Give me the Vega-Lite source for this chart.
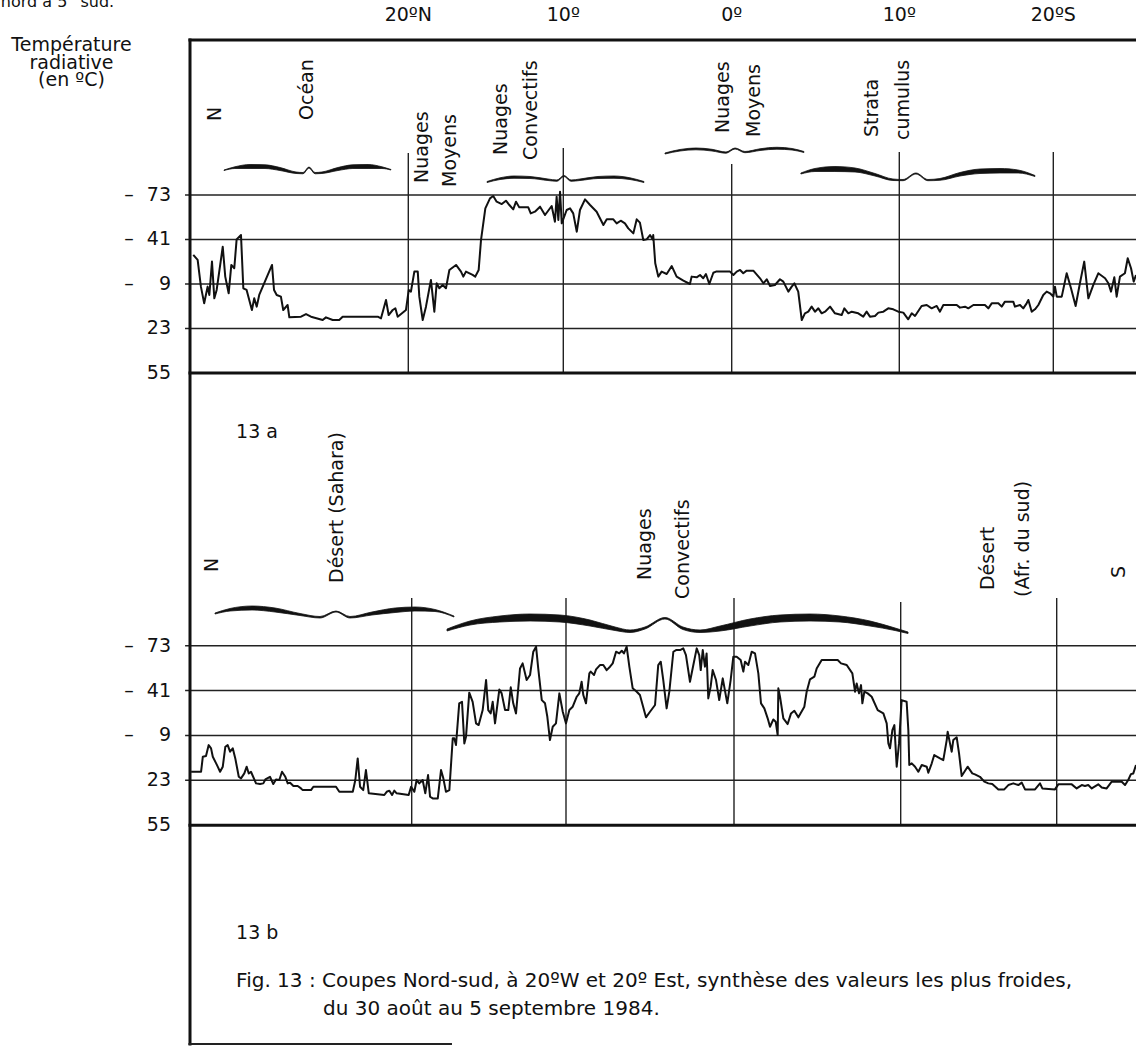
{
  "$schema": "https://vega.github.io/schema/vega-lite/v6.json",
  "background": "white",
  "padding": 0,
  "spacing": 0,
  "bounds": "flush",
  "config": {"view": {"stroke": null}, "font": "DejaVu Sans"},
  "resolve": {"scale": {"x": "independent", "y": "independent"}},
  "datasets": {
    "traceA": [
      {"lat":33.79,"t":-29.9},{"lat":33.51,"t":-26.3},{"lat":33.30,"t":-7.1},{"lat":33.09,"t":4.9},{"lat":32.87,"t":-7.1},{"lat":32.76,"t":-1.1},{"lat":32.59,"t":-25.1},{"lat":32.44,"t":1.3},{"lat":32.29,"t":-4.7},{"lat":31.90,"t":-35.8},{"lat":31.74,"t":-14.3},{"lat":31.52,"t":-2.3},{"lat":31.35,"t":-22.7},{"lat":31.16,"t":-20.3},{"lat":31.01,"t":-41.1},{"lat":30.73,"t":-44.2},{"lat":30.58,"t":-5.9},{"lat":30.37,"t":-4.7},{"lat":30.03,"t":9.7},{"lat":29.88,"t":1.3},{"lat":29.72,"t":7.3},{"lat":29.56,"t":-1.1},{"lat":28.74,"t":-22.7},{"lat":28.61,"t":-4.7},{"lat":28.44,"t":-1.1},{"lat":28.17,"t":0.1},{"lat":28.02,"t":9.7},{"lat":27.74,"t":6.1},{"lat":27.63,"t":15.0},{"lat":26.88,"t":14.5},{"lat":26.56,"t":12.6},{"lat":26.24,"t":14.5},{"lat":25.49,"t":16.9},{"lat":25.28,"t":15.0},{"lat":24.85,"t":16.9},{"lat":24.43,"t":16.9},{"lat":24.21,"t":14.5},{"lat":21.96,"t":14.5},{"lat":21.75,"t":15.7},{"lat":21.43,"t":2.5},{"lat":21.26,"t":13.3},{"lat":21.00,"t":9.7},{"lat":20.83,"t":8.5},{"lat":20.68,"t":14.5},{"lat":20.15,"t":9.7},{"lat":19.97,"t":-4.7},{"lat":19.83,"t":-3.5},{"lat":19.61,"t":-17.9},{"lat":19.39,"t":-17.9},{"lat":19.29,"t":0.1},{"lat":19.07,"t":16.9},{"lat":18.86,"t":7.3},{"lat":18.54,"t":-11.9},{"lat":18.32,"t":10.9},{"lat":18.17,"t":-9.5},{"lat":18.00,"t":-5.9},{"lat":17.78,"t":-8.3},{"lat":17.57,"t":-5.9},{"lat":17.35,"t":-19.1},{"lat":16.92,"t":-22.7},{"lat":16.60,"t":-17.9},{"lat":16.45,"t":-14.3},{"lat":16.28,"t":-17.9},{"lat":15.85,"t":-15.5},{"lat":15.68,"t":-14.3},{"lat":15.46,"t":-19.1},{"lat":15.31,"t":-40.6},{"lat":15.03,"t":-63.4},
      {"lat":14.73,"t":-70.6},{"lat":14.52,"t":-72.3},{"lat":14.30,"t":-68.2},{"lat":13.97,"t":-66.5},{"lat":13.70,"t":-68.9},{"lat":13.48,"t":-65.8},{"lat":13.23,"t":-62.7},{"lat":13.05,"t":-68.2},{"lat":12.84,"t":-64.1},{"lat":12.26,"t":-64.1},{"lat":12.10,"t":-59.8},{"lat":11.83,"t":-61},{"lat":11.50,"t":-64.6},{"lat":11.18,"t":-58.6},{"lat":10.75,"t":-65.1},{"lat":10.54,"t":-53.8},{"lat":10.43,"t":-71.8},{"lat":10.32,"t":-55},{"lat":10.21,"t":-75.4},{"lat":10.10,"t":-52.6},{"lat":9.80,"t":-62.2},{"lat":9.60,"t":-63.4},{"lat":9.41,"t":-59.8},{"lat":9.20,"t":-46.6},{"lat":9.01,"t":-62.2},{"lat":8.71,"t":-69.9},{"lat":8.41,"t":-65.8},{"lat":8.02,"t":-61},{"lat":7.62,"t":-51.4},{"lat":7.42,"t":-55.5},{"lat":7.03,"t":-55.5},{"lat":6.83,"t":-52.6},{"lat":6.59,"t":-54.5},{"lat":6.34,"t":-52.6},{"lat":6.14,"t":-49},{"lat":5.84,"t":-45.4},{"lat":5.64,"t":-55.5},{"lat":5.45,"t":-53.1},{"lat":5.25,"t":-40.6},{"lat":5.05,"t":-41.1},{"lat":4.85,"t":-44.2},{"lat":4.69,"t":-41.1},{"lat":4.66,"t":-44.2},{"lat":4.54,"t":-23.9},{"lat":4.36,"t":-14.3},{"lat":4.16,"t":-17.9},{"lat":3.86,"t":-16.2},{"lat":3.56,"t":-21.9},{"lat":3.27,"t":-14.3},{"lat":2.87,"t":-11.4},{"lat":2.48,"t":-9.0},{"lat":2.38,"t":-14.3},{"lat":2.08,"t":-13.8},{"lat":1.88,"t":-15.5},{"lat":1.69,"t":-13.1},{"lat":1.53,"t":-16.2},{"lat":1.33,"t":-9.0},{"lat":1.09,"t":-17.1},{"lat":0.93,"t":-17.9},{"lat":0.10,"t":-17.9},{"lat":-0.10,"t":-15.5},{"lat":-0.30,"t":-17.9},{"lat":-0.50,"t":-19.1},{"lat":-0.69,"t":-16.7},{"lat":-0.89,"t":-18.6},{"lat":-1.29,"t":-18.6},
      {"lat":-1.69,"t":-13.1},{"lat":-1.89,"t":-9.5},{"lat":-2.09,"t":-12.4},{"lat":-2.29,"t":-7.6},{"lat":-2.58,"t":-8.3},{"lat":-2.88,"t":-12.4},{"lat":-3.08,"t":-10.7},{"lat":-3.38,"t":-3.5},{"lat":-3.58,"t":-7.1},{"lat":-3.74,"t":-9.5},{"lat":-3.97,"t":-3.5},{"lat":-4.18,"t":16.9},{"lat":-4.37,"t":12.1},{"lat":-4.57,"t":10.9},{"lat":-4.77,"t":7.3},{"lat":-4.97,"t":10.9},{"lat":-5.17,"t":8.5},{"lat":-5.37,"t":12.1},{"lat":-5.57,"t":10.9},{"lat":-5.87,"t":7.3},{"lat":-6.16,"t":12.1},{"lat":-6.56,"t":13.3},{"lat":-6.72,"t":8.5},{"lat":-6.96,"t":12.1},{"lat":-7.16,"t":10.9},{"lat":-7.55,"t":12.1},{"lat":-7.85,"t":14.5},{"lat":-8.05,"t":10.9},{"lat":-8.25,"t":14.5},{"lat":-8.55,"t":14.0},{"lat":-8.75,"t":11.6},{"lat":-9.05,"t":10.9},{"lat":-9.34,"t":8.5},{"lat":-9.64,"t":9.2},{"lat":-9.94,"t":10.9},{"lat":-10.26,"t":11.6},{"lat":-10.58,"t":16.4},{"lat":-10.81,"t":12.1},{"lat":-11.02,"t":14.0},{"lat":-11.45,"t":6.8},{"lat":-11.78,"t":6.1},{"lat":-12.10,"t":8.5},{"lat":-12.43,"t":6.8},{"lat":-12.64,"t":10.9},{"lat":-12.86,"t":6.1},{"lat":-13.73,"t":6.1},{"lat":-13.94,"t":8.0},{"lat":-14.27,"t":7.3},{"lat":-14.48,"t":8.5},{"lat":-14.81,"t":6.1},{"lat":-15.56,"t":6.1},{"lat":-15.78,"t":8.5},{"lat":-16.0,"t":4.9},{"lat":-16.43,"t":4.9},{"lat":-16.65,"t":7.3},{"lat":-16.86,"t":3.7},{"lat":-17.40,"t":3.7},{"lat":-17.51,"t":7.3},{"lat":-17.84,"t":6.1},{"lat":-18.05,"t":8.5},{"lat":-18.27,"t":4.9},{"lat":-18.38,"t":2.5},{"lat":-18.60,"t":10.9},{"lat":-18.81,"t":9.2},{"lat":-19.03,"t":6.1},{"lat":-19.35,"t":-1.1},{"lat":-19.57,"t":-3.5},{"lat":-19.79,"t":-2.3},{"lat":-20.0,"t":0.1},{"lat":-20.10,"t":-7.1},{"lat":-20.21,"t":0.1},{"lat":-20.51,"t":0.1},{"lat":-20.81,"t":-16.7},{"lat":-21.07,"t":-5.9},{"lat":-21.35,"t":6.8},{"lat":-21.61,"t":-9.5},{"lat":-21.87,"t":-25.1},{"lat":-22.12,"t":1.3},{"lat":-22.42,"t":-8.3},{"lat":-22.72,"t":-16.7},{"lat":-23.13,"t":-13.1},{"lat":-23.33,"t":-9.5},{"lat":-23.49,"t":-3.5},{"lat":-23.69,"t":-13.8},{"lat":-23.83,"t":0.1},{"lat":-24.03,"t":-14.3},{"lat":-24.33,"t":-16.7},{"lat":-24.50,"t":-27.5},{"lat":-24.70,"t":-20.3},{"lat":-24.86,"t":-10.7},{"lat":-25.0,"t":-15.5}
    ],
    "traceB": [
      {"lat":33.93,"t":16.9},{"lat":33.30,"t":16.9},{"lat":33.19,"t":6.2},{"lat":32.99,"t":5.7},{"lat":32.82,"t":-2.1},{"lat":32.67,"t":0.2},{"lat":32.56,"t":6.2},{"lat":32.35,"t":10.9},{"lat":32.25,"t":13.3},{"lat":32.10,"t":16.9},{"lat":31.93,"t":13.3},{"lat":31.77,"t":-0.9},{"lat":31.62,"t":-2.1},{"lat":31.47,"t":2.6},{"lat":31.30,"t":0.2},{"lat":31.14,"t":7.4},{"lat":30.92,"t":20.5},{"lat":30.78,"t":21.6},{"lat":30.57,"t":18.1},{"lat":30.42,"t":13.3},{"lat":30.29,"t":18.1},{"lat":30.15,"t":16.9},{"lat":29.83,"t":25.2},{"lat":29.58,"t":25.7},{"lat":29.37,"t":25.2},{"lat":29.24,"t":22.4},{"lat":28.95,"t":20.5},{"lat":28.74,"t":25.7},{"lat":28.57,"t":22.4},{"lat":28.36,"t":22.8},{"lat":28.19,"t":16.9},{"lat":27.98,"t":20.5},{"lat":27.83,"t":25.2},{"lat":27.68,"t":24.7},{"lat":27.47,"t":27.1},{"lat":27.20,"t":27.1},{"lat":26.99,"t":28.8},{"lat":26.88,"t":30.0},{"lat":26.36,"t":30.0},{"lat":26.21,"t":27.6},{"lat":24.78,"t":27.6},{"lat":24.57,"t":31.2},{"lat":23.72,"t":31.2},{"lat":23.56,"t":22.8},{"lat":23.41,"t":7.4},{"lat":23.26,"t":27.6},{"lat":23.06,"t":30.0},{"lat":22.89,"t":15.7},{"lat":22.71,"t":32.3},{"lat":21.73,"t":33.5},{"lat":21.58,"t":31.2},{"lat":21.41,"t":30.4},{"lat":21.24,"t":33.5},{"lat":21.10,"t":30.4},{"lat":20.95,"t":32.3},{"lat":20.19,"t":33.5},{"lat":20.04,"t":27.6},{"lat":19.83,"t":31.2},{"lat":19.68,"t":22.8},{"lat":19.51,"t":25.2},{"lat":19.29,"t":22.8},{"lat":19.12,"t":32.3},{"lat":18.94,"t":19.3},{"lat":18.81,"t":34.7},{"lat":18.64,"t":35.9},{"lat":18.31,"t":35.9},{"lat":18.10,"t":15.7},{"lat":17.95,"t":21.6},{"lat":17.78,"t":31.2},{"lat":17.56,"t":30.0},{"lat":17.34,"t":-6.9},{"lat":17.24,"t":-6.9},{"lat":17.13,"t":-2.1},{"lat":16.92,"t":-31.9},{"lat":16.74,"t":-33.0},{"lat":16.59,"t":-3.3},{"lat":16.48,"t":-8.1},{"lat":16.27,"t":-39.5},{"lat":16.05,"t":-33.0},{"lat":15.83,"t":-17.6},{"lat":15.66,"t":-16.4},{"lat":15.40,"t":-27.1},{"lat":15.18,"t":-48.5},
      {"lat":15.04,"t":-27.1},{"lat":14.88,"t":-24.7},{"lat":14.75,"t":-33.0},{"lat":14.60,"t":-17.6},{"lat":14.32,"t":-41.8},{"lat":14.17,"t":-39.0},{"lat":13.95,"t":-27.1},{"lat":13.74,"t":-27.1},{"lat":13.58,"t":-43.3},{"lat":13.42,"t":-31.9},{"lat":13.24,"t":-24.7},{"lat":12.98,"t":-56.8},{"lat":12.81,"t":-60.4},{"lat":12.55,"t":-48.5},{"lat":12.33,"t":-52.1},{"lat":12.12,"t":-68.7},{"lat":11.94,"t":-72.3},{"lat":11.80,"t":-56.8},{"lat":11.57,"t":-34.2},{"lat":11.36,"t":-31.9},{"lat":11.21,"t":-22.3},{"lat":11.04,"t":-5.7},{"lat":10.86,"t":-15.2},{"lat":10.65,"t":-17.6},{"lat":10.43,"t":-39.0},{"lat":10.21,"t":-25.9},{"lat":10.0,"t":-17.6},{"lat":9.80,"t":-27.1},{"lat":9.60,"t":-29.5},{"lat":9.36,"t":-36.6},{"lat":9.21,"t":-39.0},{"lat":9.07,"t":-47.3},{"lat":8.97,"t":-37.8},{"lat":8.81,"t":-31.9},{"lat":8.61,"t":-53.3},{"lat":8.53,"t":-54.5},{"lat":8.33,"t":-52.1},{"lat":8.21,"t":-56.1},{"lat":7.98,"t":-59.2},{"lat":7.78,"t":-59.2},{"lat":7.58,"t":-55.6},{"lat":7.38,"t":-58.0},{"lat":7.22,"t":-60.4},{"lat":7.02,"t":-68.7},{"lat":6.83,"t":-67.5},{"lat":6.68,"t":-69.4},{"lat":6.55,"t":-67.5},{"lat":6.39,"t":-72.3},{"lat":6.23,"t":-58.0},{"lat":6.03,"t":-42.6},{"lat":5.79,"t":-40.2},{"lat":5.60,"t":-37.8},{"lat":5.24,"t":-21.9},{"lat":5.0,"t":-25.9},{"lat":4.70,"t":-30.7},{"lat":4.51,"t":-59.2},{"lat":4.36,"t":-61.6},{"lat":4.21,"t":-48.5},{"lat":4.01,"t":-28.3},{"lat":3.85,"t":-40.2},{"lat":3.61,"t":-68.7},{"lat":3.45,"t":-69.9},{"lat":3.21,"t":-69.9},{"lat":3.02,"t":-71.1},{"lat":2.86,"t":-66.3},{"lat":2.62,"t":-47.3},{"lat":2.42,"t":-59.2},{"lat":2.22,"t":-71.1},{"lat":2.07,"t":-66.3},{"lat":1.98,"t":-55.6},{"lat":1.86,"t":-69.9},{"lat":1.73,"t":-58.0},{"lat":1.63,"t":-67.5},{"lat":1.53,"t":-35.4},{"lat":1.39,"t":-43.8},{"lat":1.27,"t":-55.6},{"lat":1.07,"t":-48.5},{"lat":0.88,"t":-34.2},{"lat":0.67,"t":-49.7},{"lat":0.40,"t":-31.9},{"lat":0.20,"t":-48.5},{"lat":0.04,"t":-65.2},{"lat":-0.16,"t":-65.2},{"lat":-0.40,"t":-62.8},{"lat":-0.56,"t":-54.5},{"lat":-0.66,"t":-61.6},{"lat":-0.86,"t":-59.2},{"lat":-1.06,"t":-68.7},
      {"lat":-1.26,"t":-67.5},{"lat":-1.46,"t":-53.3},{"lat":-1.62,"t":-31.9},{"lat":-1.82,"t":-28.3},{"lat":-2.02,"t":-21.2},{"lat":-2.16,"t":-15.2},{"lat":-2.36,"t":-20.4},{"lat":-2.50,"t":-18.8},{"lat":-2.62,"t":-9.3},{"lat":-2.66,"t":-42.6},{"lat":-2.76,"t":-36.6},{"lat":-2.96,"t":-21.2},{"lat":-3.22,"t":-17.1},{"lat":-3.42,"t":-24.7},{"lat":-3.62,"t":-26.6},{"lat":-3.86,"t":-21.9},{"lat":-4.22,"t":-29.5},{"lat":-4.36,"t":-40.2},{"lat":-4.56,"t":-49.0},{"lat":-4.82,"t":-50.9},{"lat":-4.96,"t":-56.8},{"lat":-5.26,"t":-62.8},{"lat":-6.22,"t":-62.8},{"lat":-6.42,"t":-60.4},{"lat":-6.76,"t":-59.2},{"lat":-7.10,"t":-53.3},{"lat":-7.26,"t":-40.2},{"lat":-7.36,"t":-46.1},{"lat":-7.50,"t":-39.0},{"lat":-7.62,"t":-44.9},{"lat":-7.70,"t":-31.9},{"lat":-7.82,"t":-40.2},{"lat":-8.02,"t":-39.0},{"lat":-8.26,"t":-36.6},{"lat":-8.62,"t":-27.1},{"lat":-8.96,"t":-24.7},{"lat":-9.16,"t":-17.6},{"lat":-9.26,"t":-3.3},{"lat":-9.36,"t":0.2},{"lat":-9.50,"t":-12.8},{"lat":-9.62,"t":-16.4},{"lat":-9.76,"t":13.3},{"lat":-9.90,"t":-3.3},{"lat":-10.06,"t":-34.2},{"lat":-10.38,"t":-33.0},{"lat":-10.49,"t":-12.8},{"lat":-10.55,"t":12.1},{"lat":-10.71,"t":10.9},{"lat":-10.92,"t":13.3},{"lat":-11.13,"t":16.9},{"lat":-11.35,"t":12.1},{"lat":-11.67,"t":13.3},{"lat":-11.77,"t":17.6},{"lat":-11.99,"t":10.9},{"lat":-12.15,"t":5.0},{"lat":-12.52,"t":7.4},{"lat":-12.73,"t":8.6},{"lat":-12.95,"t":-5.7},{"lat":-13.01,"t":-11.6},{"lat":-13.16,"t":-3.3},{"lat":-13.27,"t":2.6},{"lat":-13.37,"t":-5.7},{"lat":-13.59,"t":-7.6},{"lat":-13.74,"t":3.8},{"lat":-13.91,"t":20.0},{"lat":-14.29,"t":13.3},{"lat":-14.59,"t":18.1},{"lat":-14.76,"t":18.8},{"lat":-15.08,"t":20.5},{"lat":-15.36,"t":24.0},{"lat":-15.62,"t":25.2},{"lat":-15.87,"t":25.7},{"lat":-16.26,"t":29.5},{"lat":-16.64,"t":29.5},{"lat":-16.90,"t":26.4},{"lat":-17.22,"t":25.2},{"lat":-17.54,"t":26.4},{"lat":-17.76,"t":24.7},{"lat":-17.97,"t":29.5},{"lat":-18.61,"t":29.5},{"lat":-18.93,"t":25.2},{"lat":-19.08,"t":28.8},{"lat":-19.89,"t":29.5},{"lat":-20.10,"t":25.9},{"lat":-20.95,"t":25.9},{"lat":-21.26,"t":28.8},{"lat":-21.58,"t":26.4},{"lat":-21.78,"t":27.1},{"lat":-21.99,"t":26.4},{"lat":-22.21,"t":28.8},{"lat":-22.62,"t":25.9},{"lat":-22.84,"t":28.1},{"lat":-23.15,"t":28.8},{"lat":-23.47,"t":24.0},{"lat":-24.10,"t":24.0},{"lat":-24.31,"t":26.4},{"lat":-24.51,"t":22.8},{"lat":-24.68,"t":18.6},{"lat":-24.83,"t":18.1},{"lat":-25.0,"t":12.1}
    ],
    "bracesA": [
      {"id":"ocean","lat":31.82,"t":-90.97,"t2":-90.61},{"id":"ocean","lat":31.12,"t":-93.27,"t2":-92.05},{"id":"ocean","lat":30.15,"t":-94.93,"t2":-92.05},{"id":"ocean","lat":29.19,"t":-94.71,"t2":-92.05},{"id":"ocean","lat":28.23,"t":-92.77,"t2":-90.61},{"id":"ocean","lat":27.20,"t":-89.53,"t2":-88.46},{"id":"ocean","lat":26.75,"t":-89.17,"t2":-88.24},{"id":"ocean","lat":26.37,"t":-93.13,"t2":-92.41},{"id":"ocean","lat":25.98,"t":-89.17,"t2":-88.24},{"id":"ocean","lat":25.54,"t":-89.53,"t2":-88.46},{"id":"ocean","lat":24.51,"t":-92.77,"t2":-90.61},{"id":"ocean","lat":23.55,"t":-94.71,"t2":-92.05},{"id":"ocean","lat":22.58,"t":-94.93,"t2":-92.05},{"id":"ocean","lat":21.69,"t":-93.27,"t2":-92.05},{"id":"ocean","lat":21.11,"t":-91.33,"t2":-90.97},
      {"id":"conv","lat":14.92,"t":-82.70,"t2":-81.98},{"id":"conv","lat":14.08,"t":-85.36,"t2":-84.14},{"id":"conv","lat":13.18,"t":-86.66,"t2":-85.00},{"id":"conv","lat":12.15,"t":-86.30,"t2":-84.86},{"id":"conv","lat":10.99,"t":-84.50,"t2":-83.42},{"id":"conv","lat":10.41,"t":-83.78,"t2":-82.85},{"id":"conv","lat":9.96,"t":-87.02,"t2":-86.30},{"id":"conv","lat":9.54,"t":-83.78,"t2":-82.85},{"id":"conv","lat":9.01,"t":-84.50,"t2":-83.42},{"id":"conv","lat":7.94,"t":-86.30,"t2":-84.86},{"id":"conv","lat":6.99,"t":-86.66,"t2":-85.00},{"id":"conv","lat":6.04,"t":-85.36,"t2":-84.14},{"id":"conv","lat":5.21,"t":-82.70,"t2":-81.98},
      {"id":"moy","lat":3.96,"t":-103.20,"t2":-102.48},{"id":"moy","lat":3.07,"t":-105.72,"t2":-104.64},{"id":"moy","lat":2.12,"t":-106.79,"t2":-105.50},{"id":"moy","lat":1.17,"t":-105.86,"t2":-104.64},{"id":"moy","lat":0.34,"t":-103.92,"t2":-103.05},{"id":"moy","lat":-0.20,"t":-106.79,"t2":-106.07},{"id":"moy","lat":-0.79,"t":-104.28,"t2":-103.41},{"id":"moy","lat":-1.69,"t":-106.22,"t2":-105.00},{"id":"moy","lat":-2.70,"t":-107.30,"t2":-105.93},{"id":"moy","lat":-3.60,"t":-106.43,"t2":-105.35},{"id":"moy","lat":-4.31,"t":-104.28,"t2":-103.56},
      {"id":"strat","lat":-4.13,"t":-88.82,"t2":-88.10},{"id":"strat","lat":-4.97,"t":-92.05,"t2":-89.89},{"id":"strat","lat":-6.16,"t":-93.49,"t2":-89.89},{"id":"strat","lat":-7.36,"t":-92.41,"t2":-89.53},{"id":"strat","lat":-8.55,"t":-88.46,"t2":-86.66},{"id":"strat","lat":-9.62,"t":-84.50,"t2":-83.42},{"id":"strat","lat":-10.24,"t":-84.14,"t2":-83.28},{"id":"strat","lat":-11.08,"t":-88.82,"t2":-88.10},{"id":"strat","lat":-11.86,"t":-84.14,"t2":-83.28},{"id":"strat","lat":-12.64,"t":-84.86,"t2":-83.57},{"id":"strat","lat":-13.94,"t":-89.17,"t2":-86.66},{"id":"strat","lat":-15.24,"t":-91.69,"t2":-88.46},{"id":"strat","lat":-16.54,"t":-92.05,"t2":-88.82},{"id":"strat","lat":-17.71,"t":-90.97,"t2":-88.82},{"id":"strat","lat":-18.81,"t":-87.02,"t2":-86.30}
    ],
    "bracesB": [
      {"id":"des","lat":32.42,"t":-96.33,"t2":-95.61},{"id":"des","lat":31.47,"t":-99.54,"t2":-97.75},{"id":"des","lat":30.08,"t":-101.32,"t2":-98.47},{"id":"des","lat":28.63,"t":-99.89,"t2":-97.04},{"id":"des","lat":27.05,"t":-95.97,"t2":-94.54},{"id":"des","lat":25.79,"t":-93.83,"t2":-92.76},{"id":"des","lat":24.78,"t":-97.75,"t2":-97.04},{"id":"des","lat":23.90,"t":-93.83,"t2":-92.76},{"id":"des","lat":22.51,"t":-97.04,"t2":-94.90},{"id":"des","lat":21.05,"t":-99.89,"t2":-96.68},{"id":"des","lat":19.79,"t":-100.61,"t2":-97.75},{"id":"des","lat":18.49,"t":-98.82,"t2":-97.40},{"id":"des","lat":17.26,"t":-94.19,"t2":-93.47},
      {"id":"conv","lat":17.71,"t":-84.91,"t2":-83.49},{"id":"conv","lat":16.22,"t":-90.62,"t2":-87.77},{"id":"conv","lat":14.28,"t":-94.19,"t2":-89.91},{"id":"conv","lat":12.33,"t":-95.61,"t2":-90.62},{"id":"conv","lat":10.39,"t":-94.90,"t2":-89.91},{"id":"conv","lat":8.57,"t":-91.33,"t2":-87.05},{"id":"conv","lat":7.08,"t":-86.34,"t2":-83.84},{"id":"conv","lat":6.19,"t":-84.20,"t2":-82.42},{"id":"conv","lat":5.30,"t":-86.34,"t2":-84.91},{"id":"conv","lat":4.11,"t":-93.12,"t2":-92.05},{"id":"conv","lat":3.04,"t":-86.34,"t2":-84.56},{"id":"conv","lat":2.02,"t":-84.20,"t2":-82.42},{"id":"conv","lat":0.83,"t":-87.05,"t2":-83.49},{"id":"conv","lat":-0.96,"t":-92.05,"t2":-87.05},{"id":"conv","lat":-2.76,"t":-94.90,"t2":-89.91},{"id":"conv","lat":-4.56,"t":-95.61,"t2":-90.62},{"id":"conv","lat":-6.36,"t":-94.19,"t2":-89.91},{"id":"conv","lat":-8.16,"t":-90.62,"t2":-87.05},{"id":"conv","lat":-9.66,"t":-85.63,"t2":-83.84},{"id":"conv","lat":-10.47,"t":-82.77,"t2":-81.70}
    ],
    "segA": [
      {"kind":"grid","lat":34.32,"lat2":-25,"t":-73,"t2":-73},
      {"kind":"grid","lat":34.32,"lat2":-25,"t":-41,"t2":-41},
      {"kind":"grid","lat":34.32,"lat2":-25,"t":-9,"t2":-9},
      {"kind":"grid","lat":34.32,"lat2":-25,"t":23,"t2":23},
      {"kind":"grid","lat":20,"lat2":20,"t":-103.2,"t2":55},
      {"kind":"grid","lat":10,"lat2":10,"t":-106.79,"t2":55},
      {"kind":"grid","lat":0,"lat2":0,"t":-95.29,"t2":55},
      {"kind":"grid","lat":-10,"lat2":-10,"t":-103.92,"t2":55},
      {"kind":"grid","lat":-20,"lat2":-20,"t":-103.92,"t2":55},
      {"kind":"frame","lat":34.1,"lat2":-25,"t":55,"t2":55},
      {"kind":"frame","lat":34.1,"lat2":-25,"t":-184.46,"t2":-184.46},
      {"kind":"frame","lat":34,"lat2":34,"t":-185.54,"t2":81.61}
    ],
    "segB": [
      {"kind":"grid","lat":34.31,"lat2":-25,"t":-73,"t2":-73},
      {"kind":"grid","lat":34.31,"lat2":-25,"t":-41,"t2":-41},
      {"kind":"grid","lat":34.31,"lat2":-25,"t":-9,"t2":-9},
      {"kind":"grid","lat":34.31,"lat2":-25,"t":23,"t2":23},
      {"kind":"grid","lat":20,"lat2":20,"t":-107.03,"t2":55},
      {"kind":"grid","lat":10,"lat2":10,"t":-107.03,"t2":55},
      {"kind":"grid","lat":0,"lat2":0,"t":-107.03,"t2":55},
      {"kind":"grid","lat":-10,"lat2":-10,"t":-104.17,"t2":55},
      {"kind":"grid","lat":-20,"lat2":-20,"t":-107.03,"t2":55},
      {"kind":"frame","lat":34.1,"lat2":-25,"t":55,"t2":55},
      {"kind":"frame","lat":34,"lat2":34,"t":-241.13,"t2":212.19},
      {"kind":"bottom","lat":34.1,"lat2":17.39,"t":211.1,"t2":211.1}
    ],
    "textA": [
      {"kind":"cut","label":"nord à 5° sud.","lat":46.13,"t":-208.19},
      {"kind":"center","label":"Température","lat":41.6,"t":-180.64},
      {"kind":"center","label":"radiative","lat":41.6,"t":-168.06},
      {"kind":"center","label":"(en ºC)","lat":41.6,"t":-155.48},
      {"kind":"center","label":"20ºN","lat":20,"t":-202.22},
      {"kind":"center","label":"10º","lat":10,"t":-202.22},
      {"kind":"center","label":"0º","lat":0,"t":-202.22},
      {"kind":"center","label":"10º","lat":-10,"t":-202.22},
      {"kind":"center","label":"20ºS","lat":-20,"t":-202.22},
      {"kind":"right","label":"73","lat":35.22,"t":-73},
      {"kind":"right","label":"41","lat":35.22,"t":-41},
      {"kind":"right","label":"9","lat":35.22,"t":-9},
      {"kind":"right","label":"23","lat":35.22,"t":23},
      {"kind":"right","label":"55","lat":35.22,"t":55},
      {"kind":"center","label":"–","lat":37.92,"t":-73},
      {"kind":"center","label":"–","lat":37.92,"t":-41},
      {"kind":"center","label":"–","lat":37.92,"t":-9},
      {"kind":"vletter","label":"N","lat":32.4,"t":-131.24},
      {"kind":"vlabel","label":"Océan","lat":26.47,"t":-126.93},
      {"kind":"vlabel","label":"Nuages","lat":19.12,"t":-81.62},
      {"kind":"vlabel","label":"Moyens","lat":17.31,"t":-78.75},
      {"kind":"vlabel","label":"Nuages","lat":14.02,"t":-101.76},
      {"kind":"vlabel","label":"Convectifs","lat":12.08,"t":-98.16},
      {"kind":"vlabel","label":"Nuages","lat":0.52,"t":-117.58},
      {"kind":"vlabel","label":"Moyens","lat":-1.33,"t":-114.7},
      {"kind":"vlabel","label":"Strata","lat":-8.37,"t":-114.7},
      {"kind":"vlabel","label":"cumulus","lat":-10.24,"t":-112.55}
    ],
    "textB": [
      {"kind":"left","label":"13 a","lat":31.09,"t":-225.43},
      {"kind":"vletter","label":"N","lat":32.61,"t":-130.57},
      {"kind":"vlabel","label":"Désert (Sahara)","lat":24.72,"t":-117.73},
      {"kind":"vlabel","label":"Nuages","lat":5.3,"t":-119.87},
      {"kind":"vlabel","label":"Convectifs","lat":3.04,"t":-106.31},
      {"kind":"vlabel","label":"Désert","lat":-15.6,"t":-112.73},
      {"kind":"vlabel","label":"(Afr. du sud)","lat":-17.84,"t":-107.74},
      {"kind":"vletter","label":"S","lat":-23.93,"t":-125.57},
      {"kind":"right","label":"73","lat":35.2,"t":-73},
      {"kind":"right","label":"41","lat":35.2,"t":-41},
      {"kind":"right","label":"9","lat":35.2,"t":-9},
      {"kind":"right","label":"23","lat":35.2,"t":23},
      {"kind":"right","label":"55","lat":35.2,"t":55},
      {"kind":"center","label":"–","lat":37.85,"t":-73},
      {"kind":"center","label":"–","lat":37.85,"t":-41},
      {"kind":"center","label":"–","lat":37.85,"t":-9},
      {"kind":"left","label":"13 b","lat":31.09,"t":131.93},
      {"kind":"caption","label":"Fig. 13 : Coupes Nord-sud, à 20ºW et 20º Est, synthèse des valeurs les plus froides,","lat":31.09,"t":166.17},
      {"kind":"caption","label":"du 30 août au 5 septembre 1984.","lat":25.6,"t":186.14}
    ]
  },
  "vconcat": [
    {
      "width": 1136,
      "height": 410,
      "encoding": {
        "x": {"field": "lat", "type": "quantitative", "axis": null,
              "scale": {"domain": [34, 20, 10, 0, -10, -20, -25], "range": [190, 408.3, 563.3, 731.7, 899.3, 1053.3, 1136], "nice": false, "zero": false}},
        "y": {"field": "t", "type": "quantitative", "axis": null, "stack": null,
              "scale": {"domain": [-213.22, 81.61], "reverse": true, "nice": false, "zero": false}}
      },
      "layer": [
        {"data": {"name": "segA"}, "transform": [{"filter": "datum.kind === 'grid'"}],
         "mark": {"type": "rule", "strokeWidth": 1.4, "color": "#222"},
         "encoding": {"x2": {"field": "lat2"}, "y2": {"field": "t2"}}},
        {"data": {"name": "segA"}, "transform": [{"filter": "datum.kind === 'frame'"}],
         "mark": {"type": "rule", "strokeWidth": 3, "color": "#111"},
         "encoding": {"x2": {"field": "lat2"}, "y2": {"field": "t2"}}},
        {"data": {"name": "traceA"},
         "mark": {"type": "line", "strokeWidth": 2, "color": "#111", "strokeJoin": "round", "clip": true}},
        {"data": {"name": "bracesA"},
         "mark": {"type": "area", "interpolate": "monotone", "color": "#111", "stroke": "#111", "strokeWidth": 0.8},
         "encoding": {"y2": {"field": "t2"}, "detail": {"field": "id"}}},
        {"data": {"name": "textA"}, "transform": [{"filter": "datum.kind === 'vlabel'"}],
         "mark": {"type": "text", "angle": 270, "align": "left", "baseline": "middle", "font": "DejaVu Sans", "fontSize": 19, "color": "#111"},
         "encoding": {"text": {"field": "label"}}},
        {"data": {"name": "textA"}, "transform": [{"filter": "datum.kind === 'vletter'"}],
         "mark": {"type": "text", "angle": 270, "align": "center", "baseline": "middle", "font": "DejaVu Sans", "fontSize": 19, "color": "#111"},
         "encoding": {"text": {"field": "label"}}},
        {"data": {"name": "textA"}, "transform": [{"filter": "datum.kind === 'center'"}],
         "mark": {"type": "text", "align": "center", "baseline": "middle", "font": "DejaVu Sans", "fontSize": 19, "color": "#111"},
         "encoding": {"text": {"field": "label"}}},
        {"data": {"name": "textA"}, "transform": [{"filter": "datum.kind === 'right'"}],
         "mark": {"type": "text", "align": "right", "baseline": "middle", "font": "DejaVu Sans", "fontSize": 19, "color": "#111"},
         "encoding": {"text": {"field": "label"}}},
        {"data": {"name": "textA"}, "transform": [{"filter": "datum.kind === 'cut'"}],
         "mark": {"type": "text", "align": "left", "baseline": "alphabetic", "font": "DejaVu Sans", "fontSize": 16, "color": "#111", "clip": true},
         "encoding": {"text": {"field": "label"}}}
      ]
    },
    {
      "width": 1136,
      "height": 648,
      "encoding": {
        "x": {"field": "lat", "type": "quantitative", "axis": null,
              "scale": {"domain": [34, 20, 10, 0, -10, -20, -25], "range": [190, 411.7, 566, 734, 900.7, 1056.7, 1136], "nice": false, "zero": false}},
        "y": {"field": "t", "type": "quantitative", "axis": null, "stack": null,
              "scale": {"domain": [-241.13, 221.09], "reverse": true, "nice": false, "zero": false}}
      },
      "layer": [
        {"data": {"name": "segB"}, "transform": [{"filter": "datum.kind === 'grid'"}],
         "mark": {"type": "rule", "strokeWidth": 1.4, "color": "#222"},
         "encoding": {"x2": {"field": "lat2"}, "y2": {"field": "t2"}}},
        {"data": {"name": "segB"}, "transform": [{"filter": "datum.kind === 'frame'"}],
         "mark": {"type": "rule", "strokeWidth": 3, "color": "#111"},
         "encoding": {"x2": {"field": "lat2"}, "y2": {"field": "t2"}}},
        {"data": {"name": "segB"}, "transform": [{"filter": "datum.kind === 'bottom'"}],
         "mark": {"type": "rule", "strokeWidth": 2, "color": "#222"},
         "encoding": {"x2": {"field": "lat2"}, "y2": {"field": "t2"}}},
        {"data": {"name": "traceB"},
         "mark": {"type": "line", "strokeWidth": 2, "color": "#111", "strokeJoin": "round", "clip": true}},
        {"data": {"name": "bracesB"},
         "mark": {"type": "area", "interpolate": "monotone", "color": "#111", "stroke": "#111", "strokeWidth": 0.8},
         "encoding": {"y2": {"field": "t2"}, "detail": {"field": "id"}}},
        {"data": {"name": "textB"}, "transform": [{"filter": "datum.kind === 'vlabel'"}],
         "mark": {"type": "text", "angle": 270, "align": "left", "baseline": "middle", "font": "DejaVu Sans", "fontSize": 19, "color": "#111"},
         "encoding": {"text": {"field": "label"}}},
        {"data": {"name": "textB"}, "transform": [{"filter": "datum.kind === 'vletter'"}],
         "mark": {"type": "text", "angle": 270, "align": "center", "baseline": "middle", "font": "DejaVu Sans", "fontSize": 19, "color": "#111"},
         "encoding": {"text": {"field": "label"}}},
        {"data": {"name": "textB"}, "transform": [{"filter": "datum.kind === 'center'"}],
         "mark": {"type": "text", "align": "center", "baseline": "middle", "font": "DejaVu Sans", "fontSize": 19, "color": "#111"},
         "encoding": {"text": {"field": "label"}}},
        {"data": {"name": "textB"}, "transform": [{"filter": "datum.kind === 'right'"}],
         "mark": {"type": "text", "align": "right", "baseline": "middle", "font": "DejaVu Sans", "fontSize": 19, "color": "#111"},
         "encoding": {"text": {"field": "label"}}},
        {"data": {"name": "textB"}, "transform": [{"filter": "datum.kind === 'left'"}],
         "mark": {"type": "text", "align": "left", "baseline": "middle", "font": "DejaVu Sans", "fontSize": 19, "color": "#111"},
         "encoding": {"text": {"field": "label"}}},
        {"data": {"name": "textB"}, "transform": [{"filter": "datum.kind === 'caption'"}],
         "mark": {"type": "text", "align": "left", "baseline": "middle", "font": "DejaVu Sans", "fontSize": 20, "color": "#111"},
         "encoding": {"text": {"field": "label"}}}
      ]
    }
  ]
}
